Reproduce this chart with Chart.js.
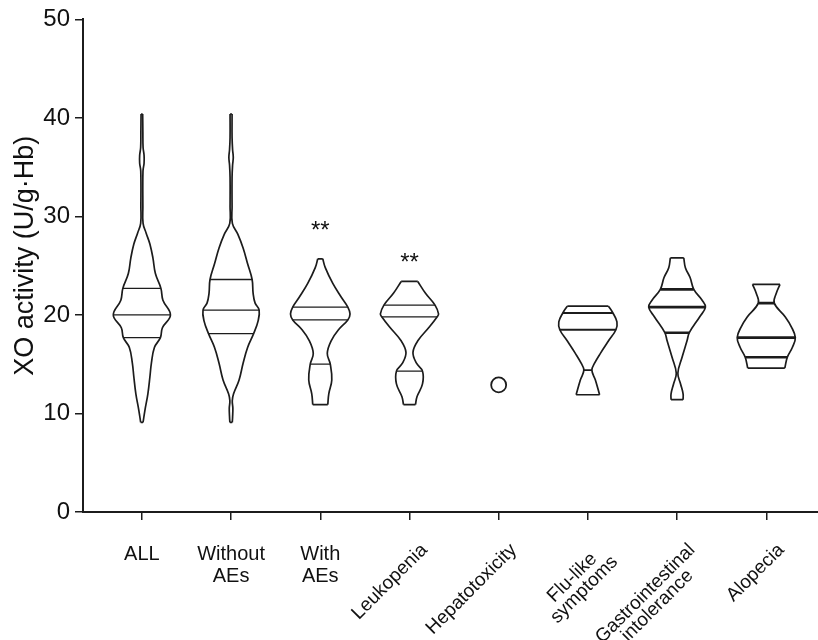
<!DOCTYPE html>
<html>
<head>
<meta charset="utf-8">
<script src="https://cdn.jsdelivr.net/npm/chart.js@4.4.1/dist/chart.umd.min.js"></script>
<style>
  body { margin: 0; background: #fff; }
</style>
</head>
<body>
<canvas id="xo" width="818" height="640"></canvas>
<script>
// groups and their tick labels
var groups = ["ALL", "Without AEs", "With AEs", "Leukopenia", "Hepatotoxicity", "Flu-like symptoms", "Gastrointestinal intolerance", "Alopecia"];
var tickLines = [["ALL"], ["Without", "AEs"], ["With", "AEs"], ["Leukopenia"], ["Hepatotoxicity"], ["Flu-like", "symptoms"], ["Gastrointestinal", "intolerance"], ["Alopecia"]];
var tiltLabel = [false, false, false, true, true, true, true, true];
var yTitle = "XO activity (U/g·Hb)";

// violin outlines: XO levels (top to bottom) and density (half width)
var levelsAll = [40.4, 38.5, 37.0, 36.2, 35.4, 34.6, 31.0, 29.3, 28.3, 27.2, 25.8, 24.2, 22.7, 21.5, 20.0, 18.7, 17.7, 16.7, 15.1, 13.7, 12.0, 10.3, 9.1];
var densAll   = [0.8, 1.0, 1.2, 2.2, 2.2, 1.1, 1.0, 1.2, 4.3, 8, 11, 13.5, 19, 21, 28.5, 20.5, 18.5, 12.5, 9.5, 8, 6, 3, 1.2];
var levelsWithout = [40.4, 38.0, 36.8, 36.0, 35.2, 34.0, 31.0, 29.3, 28.2, 26.8, 25.2, 23.6, 22.2, 21.2, 20.5, 19.4, 18.1, 16.7, 15.1, 13.4, 12.0, 11.3, 10.5, 9.6, 9.1];
var densWithout   = [1.0, 1.0, 1.5, 2.2, 1.5, 1.0, 1.0, 1.3, 6.7, 12, 16.5, 21, 22, 24, 28, 27, 22.5, 16.5, 12, 8, 2.5, 1.2, 1.8, 1.5, 1.2];
var levelsWith = [25.7, 24.8, 23.2, 21.8, 20.8, 20.1, 19.5, 18.6, 17.4, 16.1, 15.0, 13.4, 12.0, 10.9];
var densWith   = [2.5, 5, 12.5, 21, 27.5, 29.7, 27.5, 19, 11, 7, 10, 11.5, 8.5, 7.5];
var levelsLeuko = [23.4, 22.2, 21.0, 20.1, 19.8, 18.8, 17.4, 16.2, 15.1, 14.3, 13.0, 11.7, 10.9];
var densLeuko   = [8.3, 16, 25.5, 29, 27.5, 20, 8.5, 3.5, 7, 13, 13, 7.5, 6];
var levelsFlu = [20.9, 20.2, 19.3, 18.5, 17.4, 16.1, 15.1, 14.4, 13.4, 11.9];
var densFlu   = [20.5, 25, 29, 28, 20.8, 12.5, 6.7, 4, 7.5, 11.7];
var levelsGI = [25.8, 24.8, 23.8, 22.6, 21.5, 20.8, 19.8, 18.2, 17.4, 15.7, 14.1, 13.0, 12.0, 11.4];
var densGI   = [6.7, 8.3, 13, 16.7, 25, 28.3, 22.5, 12.2, 10, 5, 0.8, 3.5, 6, 6];
var levelsAlo = [23.1, 22.2, 21.2, 19.8, 18.8, 17.7, 16.7, 15.7, 14.6];
var densAlo   = [13.7, 10, 8, 19, 25, 29, 26, 21, 18.5];
var hepatoValue = [12.9];

// quartile lines
var q75    = [22.7, 23.6, 20.8, 21.0, null, 20.2, 22.6, 21.2];
var median = [20.0, 20.5, 19.5, 19.8, null, 18.5, 20.8, 17.7];
var q25    = [17.7, 18.1, 15.0, 14.3, null, 14.4, 18.2, 15.7];

// significance marks
var sigText  = ["", "", "**", "**", "", "", "", ""];
var sigLevel = [null, null, 28.7, 25.5, null, null, null, null];

var profiles = [
  [levelsAll, densAll], [levelsWithout, densWithout], [levelsWith, densWith], [levelsLeuko, densLeuko],
  null, [levelsFlu, densFlu], [levelsGI, densGI], [levelsAlo, densAlo]
];

var DENS_SCALE = 1 / 89;   // density unit -> category units
var INK = "#1c1c1c";
var FONT = "'Liberation Sans', Arial, sans-serif";
var quartWidth = [1.3, 1.3, 1.3, 1.3, 1.3, 1.8, 2.6, 2.6];

function widthAt(prof, v) {
  var lv = prof[0], d = prof[1];
  for (var k = 0; k < lv.length - 1; k++) {
    if (v <= lv[k] && v >= lv[k + 1]) {
      var t = (lv[k] - v) / (lv[k] - lv[k + 1]);
      return d[k] + t * (d[k + 1] - d[k]);
    }
  }
  return d[d.length - 1];
}

var datasets = [];
profiles.forEach(function(prof, i) {
  if (!prof) return;
  var lv = prof[0], d = prof[1], n = lv.length;
  var right = lv.map(function(v, k) { return {x: i + d[k] * DENS_SCALE, y: v}; });
  var left = lv.map(function(v, k) { return {x: i - d[k] * DENS_SCALE, y: v}; });
  var side = {showLine: true, borderColor: INK, borderWidth: 1.7, pointRadius: 0, tension: 0.4, fill: false};
  datasets.push(Object.assign({data: right}, side));
  datasets.push(Object.assign({data: left}, side));
  var flat = {showLine: true, borderColor: INK, borderWidth: 1.7, pointRadius: 0, tension: 0, fill: false};
  datasets.push(Object.assign({data: [left[0], right[0]]}, flat));
  datasets.push(Object.assign({data: [left[n - 1], right[n - 1]]}, flat));
  [q75[i], median[i], q25[i]].forEach(function(q) {
    var w = widthAt(prof, q) * DENS_SCALE;
    datasets.push({data: [{x: i - w, y: q}, {x: i + w, y: q}], showLine: true, borderColor: INK,
      borderWidth: quartWidth[i], pointRadius: 0, tension: 0});
  });
});

datasets.push({
  data: hepatoValue.map(function(v) { return {x: 4, y: v}; }),
  showLine: false, pointRadius: 7.5, pointBorderWidth: 1.8, pointBorderColor: INK, pointBackgroundColor: "#fff"
});

var labelPlugin = {
  id: "xoLabels",
  afterDraw: function(chart) {
    var ctx = chart.ctx, xs = chart.scales.x, ys = chart.scales.y;
    ctx.save();
    ctx.fillStyle = "#111";
    ctx.font = "20px " + FONT;
    tickLines.forEach(function(lines, i) {
      var px = xs.getPixelForValue(i);
      if (!tiltLabel[i]) {
        ctx.textAlign = "center";
        ctx.textBaseline = "alphabetic";
        lines.forEach(function(t, k) { ctx.fillText(t, px, xs.top + 48 + k * 22); });
      } else {
        ctx.font = "19px " + FONT;
        var w = Math.max.apply(null, lines.map(function(t) { return ctx.measureText(t).width; }));
        ctx.save();
        ctx.translate(px + 15, xs.top + 35);
        ctx.rotate(-Math.PI / 4);
        ctx.textAlign = "center";
        ctx.textBaseline = "middle";
        lines.forEach(function(t, k) { ctx.fillText(t, -w / 2, k * 17); });
        ctx.restore();
      }
    });
    // y axis title
    ctx.save();
    ctx.font = "27px " + FONT;
    ctx.translate(26, (ys.top + ys.bottom) / 2 - 10);
    ctx.rotate(-Math.PI / 2);
    ctx.textAlign = "center";
    ctx.textBaseline = "middle";
    ctx.fillText(yTitle, 0, 0);
    ctx.restore();
    // significance stars
    ctx.font = "24px " + FONT;
    ctx.textAlign = "center";
    ctx.textBaseline = "alphabetic";
    sigText.forEach(function(t, i) {
      if (!t) return;
      ctx.fillText(t, xs.getPixelForValue(i), ys.getPixelForValue(sigLevel[i]) + 9);
    });
    ctx.restore();
  }
};

new Chart(document.getElementById("xo"), {
  type: "scatter",
  data: {datasets: datasets},
  plugins: [labelPlugin],
  options: {
    responsive: false,
    animation: false,
    layout: {autoPadding: false, padding: {top: 18, right: 0, left: 0, bottom: 0}},
    plugins: {legend: {display: false}, tooltip: {enabled: false}},
    scales: {
      x: {
        type: "linear", min: -0.66, max: 7.58,
        afterBuildTicks: function(s) { s.ticks = groups.map(function(g, i) { return {value: i}; }); },
        ticks: {display: false},
        grid: {drawOnChartArea: false, drawTicks: true, tickLength: 8, color: INK, lineWidth: 1.5},
        border: {color: INK, width: 2},
        afterFit: function(s) { s.height = 128; s.paddingLeft = 0; s.paddingRight = 0; }
      },
      y: {
        min: 0, max: 50,
        ticks: {stepSize: 10, color: "#111", font: {size: 24, family: FONT}, padding: 5},
        grid: {drawOnChartArea: false, drawTicks: true, tickLength: 8, color: INK, lineWidth: 1.5},
        border: {color: INK, width: 2},
        afterFit: function(s) { s.width = 83; }
      }
    }
  }
});
</script>
</body>
</html>
